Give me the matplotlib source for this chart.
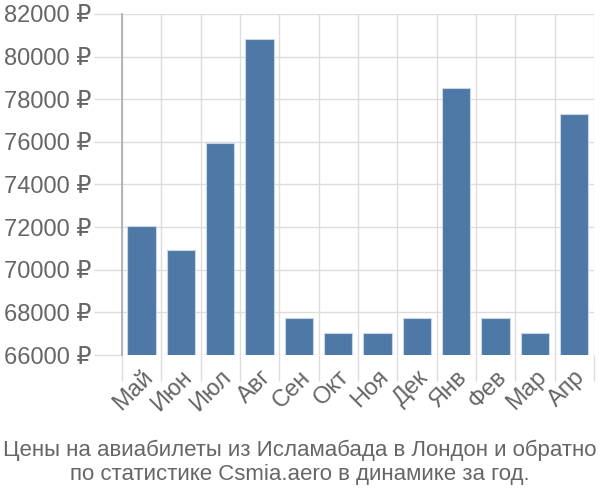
import matplotlib
matplotlib.use('Agg')
import matplotlib.pyplot as plt
from matplotlib.ticker import FuncFormatter

plt.rcParams['font.family'] = ['Liberation Sans', 'DejaVu Sans']

# Данные графика
months = ['Май', 'Июн', 'Июл', 'Авг', 'Сен', 'Окт', 'Ноя', 'Дек', 'Янв', 'Фев', 'Мар', 'Апр']
prices = [72050, 70940, 75960, 80840, 67750, 67020, 67020, 67750, 78510, 67750, 67020, 77290]
y_ticks = [66000, 68000, 70000, 72000, 74000, 76000, 78000, 80000, 82000]
title = 'Цены на авиабилеты из Исламабада в Лондон и обратно\nпо статистике Csmia.aero в динамике за год.'

fig = plt.figure(figsize=(6, 5), dpi=100)
ax = fig.add_axes([0.203, 0.29, 0.787, 0.682])

x = range(len(months))
ax.bar(x, prices, width=0.72, color='#4e78a6', edgecolor='#c9d6e6', linewidth=0.8, zorder=3)

ax.set_ylim(66000, 82000)
ax.set_xlim(-0.5, len(months) - 0.5)
ax.set_yticks(y_ticks)
ax.yaxis.set_major_formatter(FuncFormatter(lambda v, p: f'{int(v)} ₽'))

# Сетка между столбцами
ax.set_xticks([i - 0.5 for i in range(len(months) + 1)], minor=False)
ax.set_xticklabels([''] * (len(months) + 1))
ax.set_xticks(list(x), minor=True)
ax.set_xticklabels(months, minor=True, rotation=45, ha='right', rotation_mode='anchor',
                   fontsize=17, color='#666666')
ax.tick_params(axis='x', which='minor', length=0, pad=8)
ax.tick_params(axis='x', which='major', length=19, color='#dddddd', width=1)
ax.tick_params(axis='y', length=20, color='#dddddd', width=1, labelsize=17, labelcolor='#666666', pad=2)
ax.grid(True, which='major', color='#dddddd', linewidth=1, zorder=0)

for side in ['top', 'right', 'bottom']:
    ax.spines[side].set_visible(False)
ax.spines['left'].set_color('#aaaaaa')
ax.spines['left'].set_linewidth(1.2)
ax.spines['left'].set_zorder(4)

fig.text(0.5, 0.03, title, ha='center', va='bottom', fontsize=16, color='#666666', linespacing=1.2)

fig.savefig('out.png', dpi=100)
